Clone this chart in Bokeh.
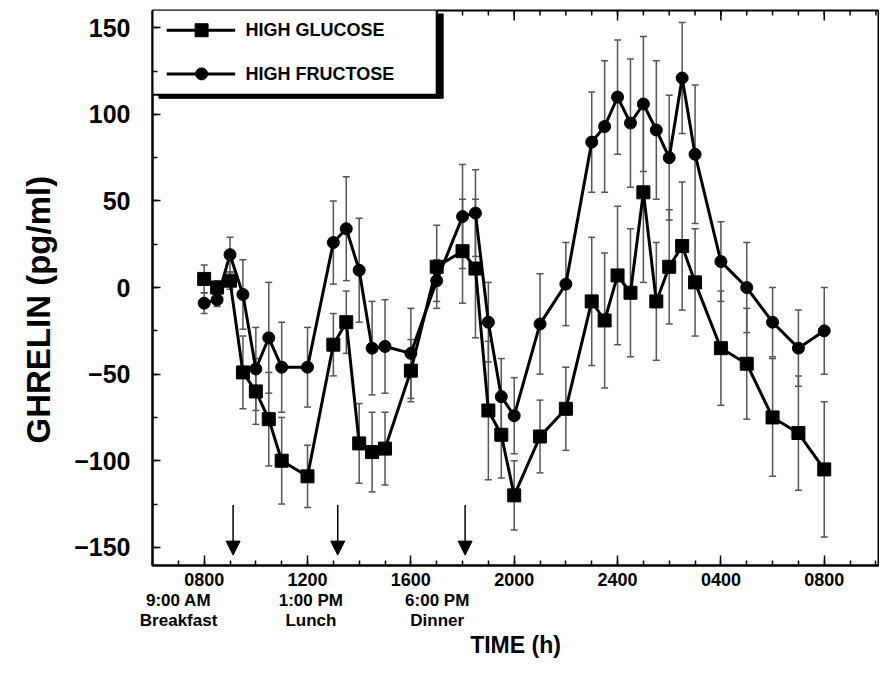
import math
from bokeh.plotting import figure
from bokeh.models import (ColumnDataSource, Whisker, TeeHead, FixedTicker, LinearAxis,
                          Arrow, NormalHead, Range1d, Title)
from bokeh.core.properties import value
from bokeh.embed import file_html
from bokeh.resources import INLINE

# ---------------- data (hours of clock time; 24 = midnight, 32 = 0800 next day) -------------
time_h = [8, 8.5, 9, 9.5, 10, 10.5, 11, 12, 13, 13.5, 14, 14.5, 15, 16, 17, 18, 18.5, 19,
          19.5, 20, 21, 22, 23, 23.5, 24, 24.5, 25, 25.5, 26, 26.5, 27, 28, 29, 30, 31, 32]
glucose = [5, 0, 4, -49, -60, -76, -100, -109, -33, -20, -90, -95, -93, -48, 12, 21, 11, -71,
           -85, -120, -86, -70, -8, -19, 7, -3, 55, -8, 12, 24, 3, -35, -44, -75, -84, -105]
glucose_sem = [8, 4, 5, 21, 19, 27, 25, 18, 18, 18, 23, 23, 21, 18, 24, 30, 40, 40,
               25, 20, 21, 24, 37, 39, 40, 37, 52, 34, 33, 37, 31, 33, 32, 34, 33, 39]
fructose = [-9, -7, 19, -4, -47, -29, -46, -46, 26, 34, 10, -35, -34, -38, 4, 41, 43, -20,
            -63, -74, -21, 2, 84, 93, 110, 95, 106, 91, 75, 121, 77, 15, 0, -20, -35, -25]
fructose_sem = [6, 4, 10, 20, 24, 32, 26, 23, 24, 30, 30, 27, 27, 26, 12, 30, 25, 23,
                22, 22, 29, 24, 29, 38, 33, 37, 39, 40, 36, 32, 40, 23, 26, 20, 22, 25]

series_names = ["HIGH GLUCOSE", "HIGH FRUCTOSE"]
meal_times = [9.12, 13.17, 18.1]
meal_labels = ["9:00 AM\nBreakfast", "1:00 PM\nLunch", "6:00 PM\nDinner"]
meal_label_x = [7.01, 12.13, 17.02]
tick_hours = [8, 12, 16, 20, 24, 28, 32]
tick_labels = ["0800", "1200", "1600", "2000", "2400", "0400", "0800"]
y_ticks = [-150, -100, -50, 0, 50, 100, 150]

FONT = "Liberation Sans"
X0, X1, Y0, Y1 = 6, 34.1, -160.5, 160

p = figure(width=879, height=661, output_backend="svg", toolbar_location=None,
           x_range=Range1d(X0, X1), y_range=Range1d(Y0, Y1),
           x_axis_location=None, y_axis_location=None,
           min_border_left=152, min_border_right=1, min_border_top=10, min_border_bottom=60)
p.grid.visible = False
p.outline_line_color = "black"
p.outline_line_width = 2
p.background_fill_color = "white"
p.border_fill_color = "white"

x_minor = list(range(X0, 35))
y_minor = list(range(-150, 151, 25))

# bottom axis with hour ticks
xa = LinearAxis(ticker=FixedTicker(ticks=tick_hours, minor_ticks=x_minor),
                major_label_overrides={t: l for t, l in zip(tick_hours, tick_labels)},
                major_label_text_font=FONT, major_label_text_font_size="18px",
                major_label_text_font_style="bold", major_label_text_color="black",
                major_tick_in=10, major_tick_out=0, minor_tick_in=5, minor_tick_out=0,
                major_tick_line_width=1.5, minor_tick_line_width=1.5,
                axis_line_width=2, major_label_standoff=7)
p.add_layout(xa, "below")

# second bottom axis: meal labels and the axis title
xa2 = LinearAxis(ticker=FixedTicker(ticks=meal_label_x),
                 major_label_overrides={t: l for t, l in zip(meal_label_x, meal_labels)},
                 major_label_text_font=FONT, major_label_text_font_size="17px",
                 major_label_text_font_style="bold", major_label_text_color="black",
                 major_label_text_line_height=1.1,
                 axis_line_color=None, major_tick_line_color=None, minor_tick_line_color=None,
                 major_tick_in=0, major_tick_out=0, major_label_standoff=2,
                 axis_label="TIME (h)", axis_label_text_font=FONT,
                 axis_label_text_font_size="23px", axis_label_text_font_style="bold",
                 axis_label_text_color="black", axis_label_standoff=-1)
p.add_layout(xa2, "below")

ya = LinearAxis(ticker=FixedTicker(ticks=y_ticks, minor_ticks=y_minor),
                major_label_text_font=FONT, major_label_text_font_size="25px",
                major_label_text_font_style="bold", major_label_text_color="black",
                major_tick_in=8, major_tick_out=0, minor_tick_in=5, minor_tick_out=0,
                major_tick_line_width=1.5, minor_tick_line_width=1.5,
                axis_line_width=2, major_label_standoff=22)
p.add_layout(ya, "left")

# y-axis title, shifted a little below the frame centre as in the reference
p.add_layout(Title(text="GHRELIN (pg/ml)", align="left", offset=122, standoff=30,
                   text_font=FONT, text_font_size="33px", text_font_style="bold",
                   text_color="black"), "left")

# top-edge inward ticks (half of a centred dash is clipped by the frame)
p.scatter(x=tick_hours, y=[Y1] * len(tick_hours), marker="dash", angle=math.pi / 2,
          size=20, line_color="black", line_width=1.5)
p.scatter(x=x_minor, y=[Y1] * len(x_minor), marker="dash", angle=math.pi / 2,
          size=10, line_color="black", line_width=1.5)

# error bars
src = ColumnDataSource(dict(
    t=time_h,
    g=glucose, gu=[v + e for v, e in zip(glucose, glucose_sem)],
    gl=[v - e for v, e in zip(glucose, glucose_sem)],
    f=fructose, fu=[v + e for v, e in zip(fructose, fructose_sem)],
    fl=[v - e for v, e in zip(fructose, fructose_sem)],
))
EB = "#555555"
for up, lo in (("gu", "gl"), ("fu", "fl")):
    w = Whisker(source=src, base="t", upper=up, lower=lo, line_color=EB, line_width=1.5,
                upper_head=TeeHead(size=7, line_color=EB, line_width=1.5),
                lower_head=TeeHead(size=7, line_color=EB, line_width=1.5),
                level="underlay")
    p.add_layout(w)

# series
p.line("t", "g", source=src, line_color="black", line_width=3)
p.line("t", "f", source=src, line_color="black", line_width=3)
p.scatter("t", "g", source=src, marker="square", size=13, fill_color="black", line_color="black")
p.scatter("t", "f", source=src, marker="circle", size=12, fill_color="black", line_color="black")

# meal arrows
asrc = ColumnDataSource(dict(x0=meal_times, y0=[-125.5] * 3, x1=meal_times, y1=[-154.5] * 3))
p.add_layout(Arrow(source=asrc, x_start="x0", y_start="y0", x_end="x1", y_end="y1",
                   line_color="black", line_width=1.5,
                   end=NormalHead(size=14, fill_color="black", line_color="black")))

# legend box (drawn manually with drop shadow)
p.quad(left=[6.25], right=[17.25], top=[158], bottom=[109.3], fill_color="black", line_color="black")
p.quad(left=[5.95], right=[17.0], top=[160.5], bottom=[111.3], fill_color="white",
       line_color="black", line_width=2)
leg_y = [148.6, 123.4]
for yy, mk, sz in zip(leg_y, ["square", "circle"], [13, 12]):
    p.line([6.55, 9.2], [yy, yy], line_color="black", line_width=3)
    p.scatter([7.9], [yy], marker=mk, size=sz, fill_color="black", line_color="black")
p.text(x=[9.6, 9.6], y=leg_y, text=series_names, text_font=value(FONT),
       text_font_size="18px", text_font_style="bold", text_baseline="middle",
       text_color="black")

open("out.html", "w").write(file_html(p, INLINE))
